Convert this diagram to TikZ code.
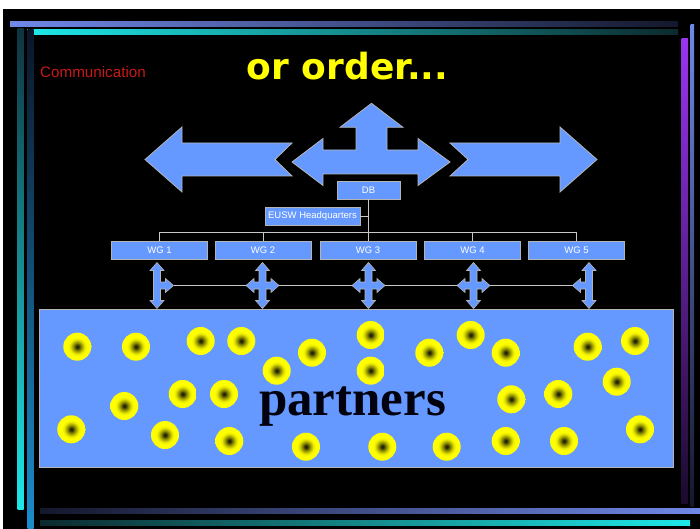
\documentclass[tikz,border=0pt]{standalone}
\usepackage{fontspec}
\setmainfont{Liberation Sans}
\newfontfamily\titlefont{DejaVu Sans}
\newfontfamily\partfont{Liberation Serif}
\definecolor{boxfill}{HTML}{6699FF}
\definecolor{boxline}{HTML}{B4B4B4}
\definecolor{conline}{HTML}{C8C8C8}
\definecolor{peri}{HTML}{7088E8}
\definecolor{perid}{HTML}{14182C}
\definecolor{cyanb}{HTML}{1EE8E8}
\definecolor{cyand}{HTML}{0C2A2E}
\definecolor{tealtop}{HTML}{0E3440}
\definecolor{navytop}{HTML}{0A1628}
\definecolor{blueb}{HTML}{1A8ECC}
\definecolor{purpb}{HTML}{9A34F0}
\definecolor{purpd}{HTML}{1A0A2C}
\definecolor{commred}{HTML}{C81818}
\definecolor{titley}{HTML}{FFFF00}
\definecolor{partc}{HTML}{02020E}
\definecolor{dotcore}{HTML}{262608}
\definecolor{dotmid}{HTML}{8C8C00}
\definecolor{dotlight}{HTML}{E8E800}
\definecolor{dotyel}{HTML}{FFFF00}
\pgfdeclareradialshading{sunflower}{\pgfpoint{0bp}{0bp}}{color(0bp)=(dotcore); color(2bp)=(dotcore); color(7bp)=(dotmid); color(13bp)=(dotlight); color(17bp)=(dotyel); color(50bp)=(dotyel)}
\begin{document}
\begin{tikzpicture}[x=1pt,y=1pt,
  bigarrow/.style={fill=boxfill, draw=boxline, line width=0.8pt, line join=miter},
  smallarrow/.style={fill=boxfill, draw=boxline, line width=0.6pt},
  orgbox/.style={rectangle, fill=boxfill, draw=boxline, line width=0.8pt, inner sep=0pt, text=white, font=\fontsize{9.5}{10}\selectfont},
  wgbox/.style={orgbox, minimum width=96pt, minimum height=18pt},
  conn/.style={draw=conline, line width=0.9pt},
  crossfour/.pic={\filldraw[smallarrow] (0,23) -- (7,15) -- (3.5,15) -- (3.5,3.5) -- (8.5,3.5) -- (8.5,7) -- (16.5,0) -- (8.5,-7) -- (8.5,-3.5) -- (3.5,-3.5) -- (3.5,-15) -- (7,-15) -- (0,-23) -- (-7,-15) -- (-3.5,-15) -- (-3.5,-3.5) -- (-8.5,-3.5) -- (-8.5,-7) -- (-16.5,0) -- (-8.5,7) -- (-8.5,3.5) -- (-3.5,3.5) -- (-3.5,15) -- (-7,15) -- cycle;},
  crossright/.pic={\filldraw[smallarrow] (0,23) -- (7,15) -- (3.5,15) -- (3.5,3.5) -- (8.5,3.5) -- (8.5,7) -- (16.5,0) -- (8.5,-7) -- (8.5,-3.5) -- (3.5,-3.5) -- (3.5,-15) -- (7,-15) -- (0,-23) -- (-7,-15) -- (-3.5,-15) -- (-3.5,15) -- (-7,15) -- cycle;},
  crossleft/.pic={\filldraw[smallarrow] (0,23) -- (7,15) -- (3.5,15) -- (3.5,-15) -- (7,-15) -- (0,-23) -- (-7,-15) -- (-3.5,-15) -- (-3.5,-3.5) -- (-8.5,-3.5) -- (-8.5,-7) -- (-16.5,0) -- (-8.5,7) -- (-8.5,3.5) -- (-3.5,3.5) -- (-3.5,15) -- (-7,15) -- cycle;}
]
\useasboundingbox (0,0) rectangle (700,-529);
% background
\fill[white] (0,0) rectangle (700,-529);
\fill[black] (3.4,-9) rectangle (700,-529);
% frame bars
\shade[left color=peri, right color=perid] (10,-22) rectangle (678,-27);
\shade[left color=cyanb, right color=cyand] (27,-30) rectangle (678,-35);
\shade[top color=tealtop, bottom color=cyanb] (17.5,-29) rectangle (23.6,-509);
\shade[top color=navytop, bottom color=blueb] (27.7,-30) rectangle (33.7,-529);
\shade[left color=perid, right color=peri] (40,-508) rectangle (700,-513);
\shade[left color=cyand, right color=cyanb] (40,-520) rectangle (690,-525);
\shade[top color=purpb, bottom color=purpd] (681.5,-39) rectangle (688,-503);
\shade[top color=peri, bottom color=perid] (690.6,-25) rectangle (694,-506);
% titles
\node[anchor=base west, inner sep=0pt, text=commred, font=\fontsize{15.2}{15}\selectfont] (comm) at (40,-77.5) {Communication};
\node[anchor=base, inner sep=0pt, text=titley, font=\titlefont\bfseries\fontsize{36}{36}\selectfont] (title) at (347.5,-80) {or order...};
% big arrows
\filldraw[bigarrow] (145,-159.5) -- (182,-127) -- (182,-143) -- (292,-143) -- (275,-159.5) -- (292,-176) -- (182,-176) -- (182,-192) -- cycle;
\filldraw[bigarrow] (597,-159.5) -- (560,-127) -- (560,-143) -- (450,-143) -- (468,-159.5) -- (450,-176) -- (560,-176) -- (560,-192) -- cycle;
\filldraw[bigarrow] (292,-162) -- (323,-138.5) -- (323,-150) -- (356,-150) -- (356,-127.3) -- (340,-127.3) -- (371.5,-103.3) -- (403,-127.3) -- (387,-127.3) -- (387,-150) -- (418,-150) -- (418,-138.5) -- (450,-162) -- (418,-185.5) -- (418,-174) -- (323,-174) -- (323,-185.5) -- cycle;
% org chart
\node[orgbox, minimum width=63pt, minimum height=18pt] (db) at (368.5,-190) {DB};
\node[orgbox, minimum width=95pt, minimum height=18pt] (hq) at (312.5,-216) {EUSW Headquarters};
\node[wgbox] (wg1) at (159.5,-250) {WG 1};
\node[wgbox] (wg2) at (263,-250) {WG 2};
\node[wgbox] (wg3) at (368,-250) {WG 3};
\node[wgbox] (wg4) at (472.5,-250) {WG 4};
\node[wgbox] (wg5) at (576.5,-250) {WG 5};
\coordinate (busL) at (159.5,-232);
\coordinate (busR) at (576.5,-232);
\draw[conn] (busL) -- (busR);
\draw[conn] (db.south) -- (db.south |- busL);
\draw[conn] (hq.east) -- (hq.east -| db.south);
\foreach \w in {wg1,wg2,wg3,wg4,wg5} {\draw[conn] (\w.north) -- (\w.north |- busL);}
% partners box
\node[rectangle, fill=boxfill, draw=boxline, line width=0.8pt, minimum width=634pt, minimum height=158pt, inner sep=0pt] (part) at (356,-388) {};
% small arrows and line
\coordinate (c1r) at (173.5,-285.5);
\coordinate (c5l) at (572.5,-285.5);
\draw[conn] (c1r) -- (c5l);
\pic at (157,-285.5) {crossright};
\pic at (262.5,-285.5) {crossfour};
\pic at (368.5,-285.5) {crossfour};
\pic at (473.5,-285.5) {crossfour};
\pic at (589,-285.5) {crossleft};
% dots
\foreach \px/\py in {77.3/346.7, 136/346.7, 200.7/341, 241.3/341, 312/352.7, 276.7/370.7, 182.7/394, 224/394, 124.3/406, 71.3/429.3, 165/435, 229.3/441, 306/446.7, 370.7/335, 370.7/370.7, 429.3/352.7, 470.7/335, 505.7/352.7, 587.7/346.7, 635/341, 616.7/381.7, 511.3/399.3, 558.3/394, 640/429.3, 382.3/446.7, 446.7/446.7, 505.7/441, 564/441}
  {\shade[shading=sunflower] (\px,-\py) circle (14);}
\node[anchor=base, inner sep=0pt, text=partc, font=\partfont\bfseries\fontsize{51}{51}\selectfont] (ptxt) at (352.5,-415) {partners};
\end{tikzpicture}
\end{document}
